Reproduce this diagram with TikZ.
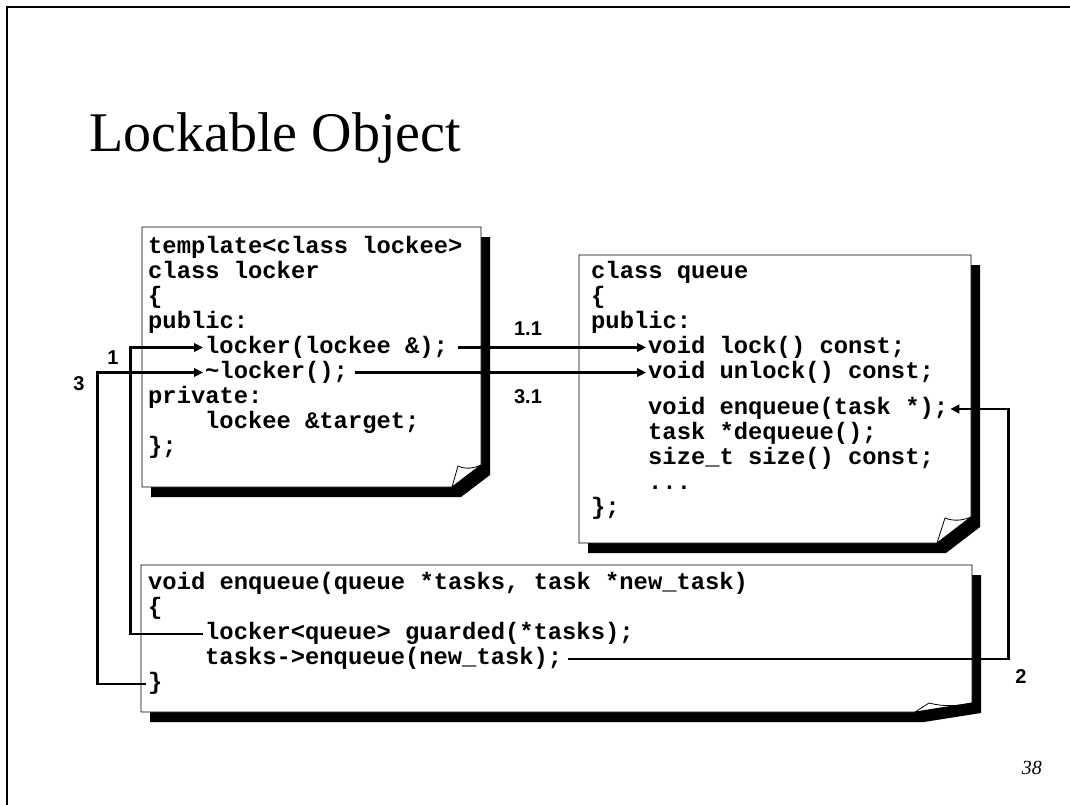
\documentclass[tikz,border=0pt]{standalone}
\usepackage{fontspec}
\setmainfont{Liberation Serif}
\newfontfamily\codefont{Liberation Mono}
\newfontfamily\labelfont{Liberation Sans}
\usetikzlibrary{arrows.meta,calc}

\tikzset{
  code/.style={anchor=base west, inner xsep=2pt, inner ysep=0pt,
    text height=15pt, text depth=4pt,
    font=\codefont\bfseries\fontsize{23.8}{25}\selectfont},
  conn/.style={line width=2.9pt, -{Triangle[length=9pt,width=8.5pt]}},
  steplabel/.style={font=\labelfont\bfseries\fontsize{20}{22}\selectfont, inner sep=0pt},
  cardshadow/.style={fill=black},
  cardface/.style={fill=white, draw=black, line width=0.9pt},
  cardcurl/.style={draw=black, line width=0.8pt},
}

% note card with a drop shadow and a curled bottom-right corner
% #1 left, #2 top, #3 right, #4 bottom, #5 x where the cut meets the bottom,
% #6 y where the cut meets the right side, #7/#8 tip of the curl
\newcommand{\notecard}[8]{%
  \fill[cardshadow, shift={(9,10)}] (#1,#2) -- (#3,#2) -- (#3,#6) -- (#5,#4) -- (#1,#4) -- cycle;
  \path[cardface] (#1,#2) -- (#3,#2) -- (#3,#6) -- (#5,#4) -- (#1,#4) -- cycle;
  \path[cardcurl] (#5,#4) -- (#7,#8)
    .. controls ($(#7,#8)!0.35!(#3,#6)+(0,4)$) and ($(#7,#8)!0.7!(#3,#6)+(0,3)$) .. (#3,#6);
}

\begin{document}
\begin{tikzpicture}[x=1pt, y=-1pt]
\useasboundingbox (0,0) rectangle (1070,805);

% slide frame
\draw[line width=2pt] (7,805) -- (7,7) -- (1070,7);

% title
\node[anchor=base west, inner sep=0pt, font=\fontsize{56}{60}\selectfont] (title) at (89,152) {Lockable Object};

% cards
\notecard{142}{227}{481}{487}{452}{465}{458}{466}
\notecard{579}{255}{971}{543}{937}{517}{945}{518}
\notecard{141}{565}{972}{712}{915}{703}{929}{703}

% class locker
\node[code] (tmpl)   at (146,253) {template<class lockee>};
\node[code] (lkcls)  at (146,278) {class locker};
\node[code] (lkopen) at (146,303) {\{};
\node[code] (lkpub)  at (146,328) {public:};
\node[code] (ctor)   at (203,353) {locker(lockee \&);};
\node[code] (dtor)   at (203,378) {\textasciitilde locker();};
\node[code] (lkpriv) at (146,403) {private:};
\node[code] (lktgt)  at (203,428) {lockee \&target;};
\node[code] (lkend)  at (146,453) {\};};

% class queue
\node[code] (qcls)     at (589,278) {class queue};
\node[code] (qopen)    at (589,303) {\{};
\node[code] (qpub)     at (589,328) {public:};
\node[code] (lockfn)   at (646,353) {void lock() const;};
\node[code] (unlockfn) at (646,378) {void unlock() const;};
\node[code] (enqfn)    at (646,414.5) {void enqueue(task *);};
\node[code] (deqfn)    at (646,439.5) {task *dequeue();};
\node[code] (sizefn)   at (646,464.5) {size\_t size() const;};
\node[code] (qmore)    at (646,489.5) {...};
\node[code] (qend)     at (589,514.5) {\};};

% free function enqueue
\node[code] (fnhead)  at (146,589.5) {void enqueue(queue *tasks, task *new\_task)};
\node[code] (fnopen)  at (146,614.5) {\{};
\node[code] (guard)   at (203,639.5) {locker<queue> guarded(*tasks);};
\node[code] (callenq) at (203,664.5) {tasks->enqueue(new\_task);};
\node[code] (closebr) at (146,689.5) {\}};

% call sequence
\draw[conn] (guard.west) -- ++(-72.5,0) |- (ctor.west);
\draw[conn] (closebr.west) -- ++(-48.5,0) |- (dtor.west);
\draw[conn] ([xshift=8pt]ctor.east) -- (lockfn.west);
\draw[conn] ([xshift=5pt]dtor.east) -- (unlockfn.west);
\path (enqfn.east) ++(58,0) coordinate (rail);
\draw[conn] ([xshift=4pt]callenq.east) -| (rail) -- (enqfn.east);

% step numbers
\node[steplabel] (n11) at (528,329) {1.1};
\node[steplabel] (n31) at (528,397) {3.1};
\node[steplabel] (n1)  at (113,358) {1};
\node[steplabel] (n3)  at (79,384) {3};
\node[steplabel] (n2)  at (1021,677) {2};

% page number
\node[anchor=base east, inner sep=0pt, font=\itshape\fontsize{20}{22}\selectfont] (page) at (1042,774) {38};
\end{tikzpicture}
\end{document}
